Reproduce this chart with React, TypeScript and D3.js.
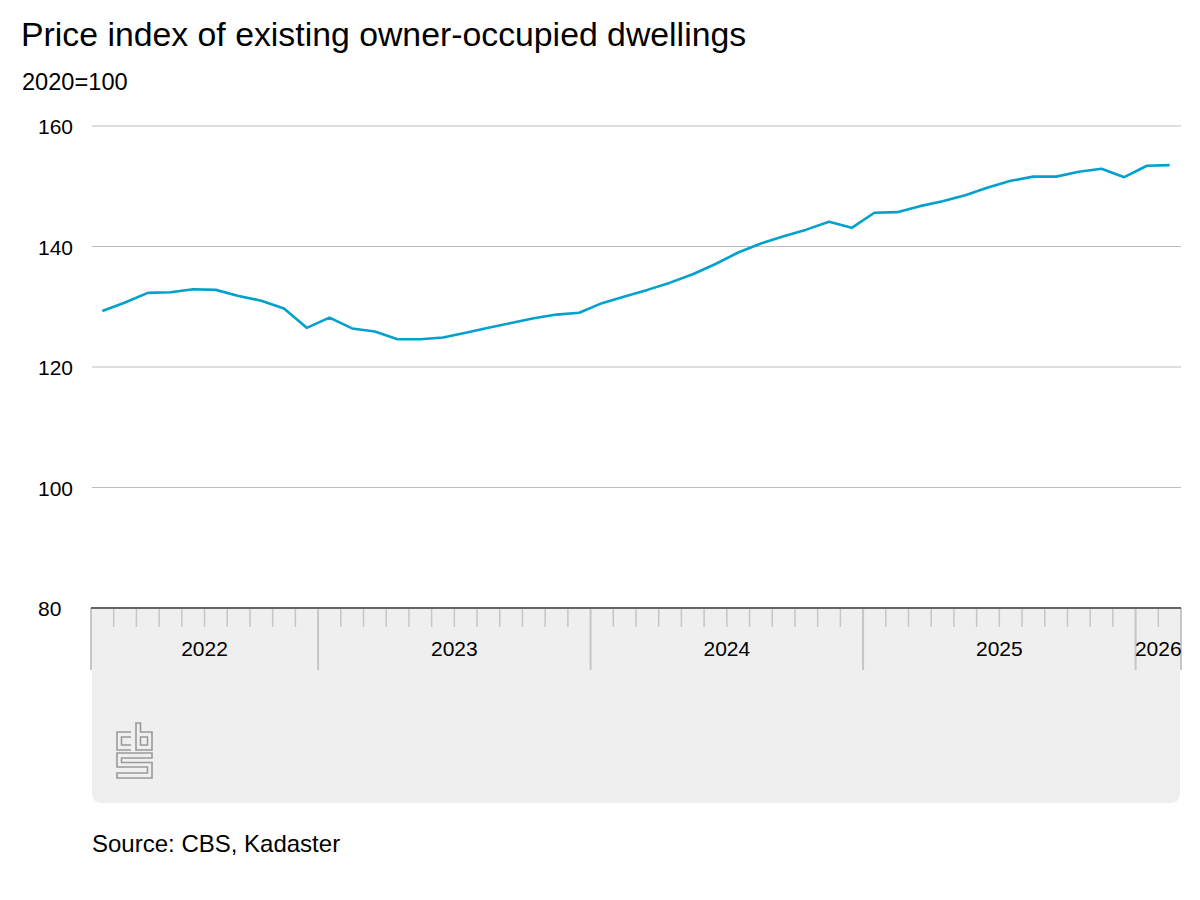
import { useEffect, useRef } from "react";
import * as d3 from "d3";

const periods: string[] = [
  "2022-03", "2022-04", "2022-05", "2022-06", "2022-07", "2022-08", "2022-09", "2022-10", "2022-11", "2022-12",
  "2023-01", "2023-02", "2023-03", "2023-04", "2023-05", "2023-06", "2023-07", "2023-08", "2023-09", "2023-10", "2023-11", "2023-12",
  "2024-01", "2024-02", "2024-03", "2024-04", "2024-05", "2024-06", "2024-07", "2024-08", "2024-09", "2024-10", "2024-11", "2024-12",
  "2025-01", "2025-02", "2025-03", "2025-04", "2025-05", "2025-06", "2025-07", "2025-08", "2025-09", "2025-10", "2025-11", "2025-12",
  "2026-01", "2026-02",
];

const priceIndex: number[] = [
  129.3, 130.7, 132.3, 132.4, 132.9, 132.8, 131.8, 131.0, 129.7, 126.5,
  128.2, 126.4, 125.9, 124.6, 124.6, 124.9, 125.7, 126.5, 127.3, 128.1, 128.7, 129.0,
  130.6, 131.7, 132.8, 134.0, 135.4, 137.1, 139.0, 140.5, 141.7, 142.8, 144.1, 143.1,
  145.6, 145.7, 146.7, 147.5, 148.5, 149.8, 150.9, 151.6, 151.6, 152.4, 152.9, 151.5,
  153.4, 153.5,
];

const years: string[] = ["2022", "2023", "2024", "2025", "2026"];
const yTicks: number[] = [80, 100, 120, 140, 160];

const FONT = "'Liberation Sans', Arial, Helvetica, sans-serif";

export default function App() {
  const svgRef = useRef<SVGSVGElement>(null);

  useEffect(() => {
    if (!svgRef.current) return;
    const svg = d3.select(svgRef.current);
    svg.selectAll("*").remove();

    const plot = { left: 91, right: 1181, top: 126, bottom: 608 };

    const x = d3
      .scaleBand<string>()
      .domain(periods)
      .range([plot.left, plot.right])
      .padding(0);

    const y = d3.scaleLinear().domain([80, 160]).range([plot.bottom, plot.top]);

    // Title and unit
    svg
      .append("text")
      .attr("x", 21)
      .attr("y", 46)
      .style("font-family", FONT)
      .style("font-size", "33.8px")
      .style("fill", "#000")
      .text("Price index of existing owner-occupied dwellings");

    svg
      .append("text")
      .attr("x", 22)
      .attr("y", 90)
      .style("font-family", FONT)
      .style("font-size", "23.6px")
      .style("fill", "#000")
      .text("2020=100");

    // Grey axis panel
    const panelTop = plot.bottom;
    const panelBottom = 803;
    const r = 10;
    svg
      .append("path")
      .attr(
        "d",
        `M${plot.left + 1},${panelTop} H${plot.right - 1} V${panelBottom - r} Q${plot.right - 1},${panelBottom} ${plot.right - 1 - r},${panelBottom} H${plot.left + 1 + r} Q${plot.left + 1},${panelBottom} ${plot.left + 1},${panelBottom - r} Z`,
      )
      .attr("fill", "#efefef");

    // Grid lines
    svg
      .append("g")
      .selectAll("line")
      .data(yTicks.filter((d) => d !== 80))
      .join("line")
      .attr("x1", plot.left + 1)
      .attr("x2", plot.right)
      .attr("y1", (d) => y(d))
      .attr("y2", (d) => y(d))
      .attr("stroke", "#bdbdbd")
      .attr("stroke-width", 1);

    // Y labels
    svg
      .append("g")
      .selectAll("text")
      .data(yTicks)
      .join("text")
      .attr("x", 38)
      .attr("y", (d) => y(d) + 8)
      .attr("text-anchor", "start")
      .style("font-family", FONT)
      .style("font-size", "21px")
      .style("fill", "#000")
      .text((d) => d);

    // Month ticks
    const isJan = (p: string) => p.endsWith("-01");
    svg
      .append("g")
      .selectAll("line")
      .data(periods.filter((p, i) => i > 0 && !isJan(p)))
      .join("line")
      .attr("x1", (d) => x(d)!)
      .attr("x2", (d) => x(d)!)
      .attr("y1", plot.bottom)
      .attr("y2", plot.bottom + 19)
      .attr("stroke", "#c6c6c6")
      .attr("stroke-width", 1.5);

    // Year boundaries
    const boundaries = [
      x(periods[0])!,
      ...periods.filter(isJan).map((p) => x(p)!),
      plot.right,
    ];
    svg
      .append("g")
      .selectAll("line")
      .data(boundaries)
      .join("line")
      .attr("x1", (d) => d)
      .attr("x2", (d) => d)
      .attr("y1", plot.bottom)
      .attr("y2", plot.bottom + 62)
      .attr("stroke", "#c6c6c6")
      .attr("stroke-width", 2);

    // Year labels
    svg
      .append("g")
      .selectAll("text")
      .data(years)
      .join("text")
      .attr("x", (yr) => {
        const inYear = periods.filter((p) => p.startsWith(yr));
        const start = x(inYear[0])!;
        const end = x(inYear[inYear.length - 1])! + x.bandwidth();
        return (start + end) / 2;
      })
      .attr("y", 656)
      .attr("text-anchor", "middle")
      .style("font-family", FONT)
      .style("font-size", "21px")
      .style("fill", "#000")
      .text((d) => d);

    // Baseline
    svg
      .append("line")
      .attr("x1", plot.left)
      .attr("x2", plot.right)
      .attr("y1", y(80))
      .attr("y2", y(80))
      .attr("stroke", "#666")
      .attr("stroke-width", 2);

    // Line
    const line = d3
      .line<number>()
      .x((_, i) => x(periods[i])! + x.bandwidth() / 2)
      .y((d) => y(d));

    svg
      .append("path")
      .datum(priceIndex)
      .attr("fill", "none")
      .attr("stroke", "#00a1cd")
      .attr("stroke-width", 2.6)
      .attr("stroke-linejoin", "round")
      .attr("d", line);

    // CBS logo
    const logo = svg
      .append("g")
      .attr("fill", "none")
      .attr("stroke", "#9a9a9a")
      .attr("stroke-width", 1.6);
    logo.append("path").attr("d", "M131,732 H117 V750 H131 M131,737 H121.5 V745 H131");
    logo.append("path").attr("d", "M136,723 V750 H152 V732 H140.5 V723 Z M140.5,737 H147.5 V745 H140.5 Z");
    logo
      .append("path")
      .attr(
        "d",
        "M152,753 H117 V767 H147.5 V773 H117 V778 H152 V762.5 H121.5 V758 H152 Z",
      );

    // Source
    svg
      .append("text")
      .attr("x", 92)
      .attr("y", 852)
      .style("font-family", FONT)
      .style("font-size", "24px")
      .style("fill", "#000")
      .text("Source: CBS, Kadaster");
  }, []);

  return (
    <div style={{ position: "absolute", left: 0, top: 0 }}>
      <svg ref={svgRef} width={1200} height={900} style={{ display: "block", background: "#fff" }} />
    </div>
  );
}
